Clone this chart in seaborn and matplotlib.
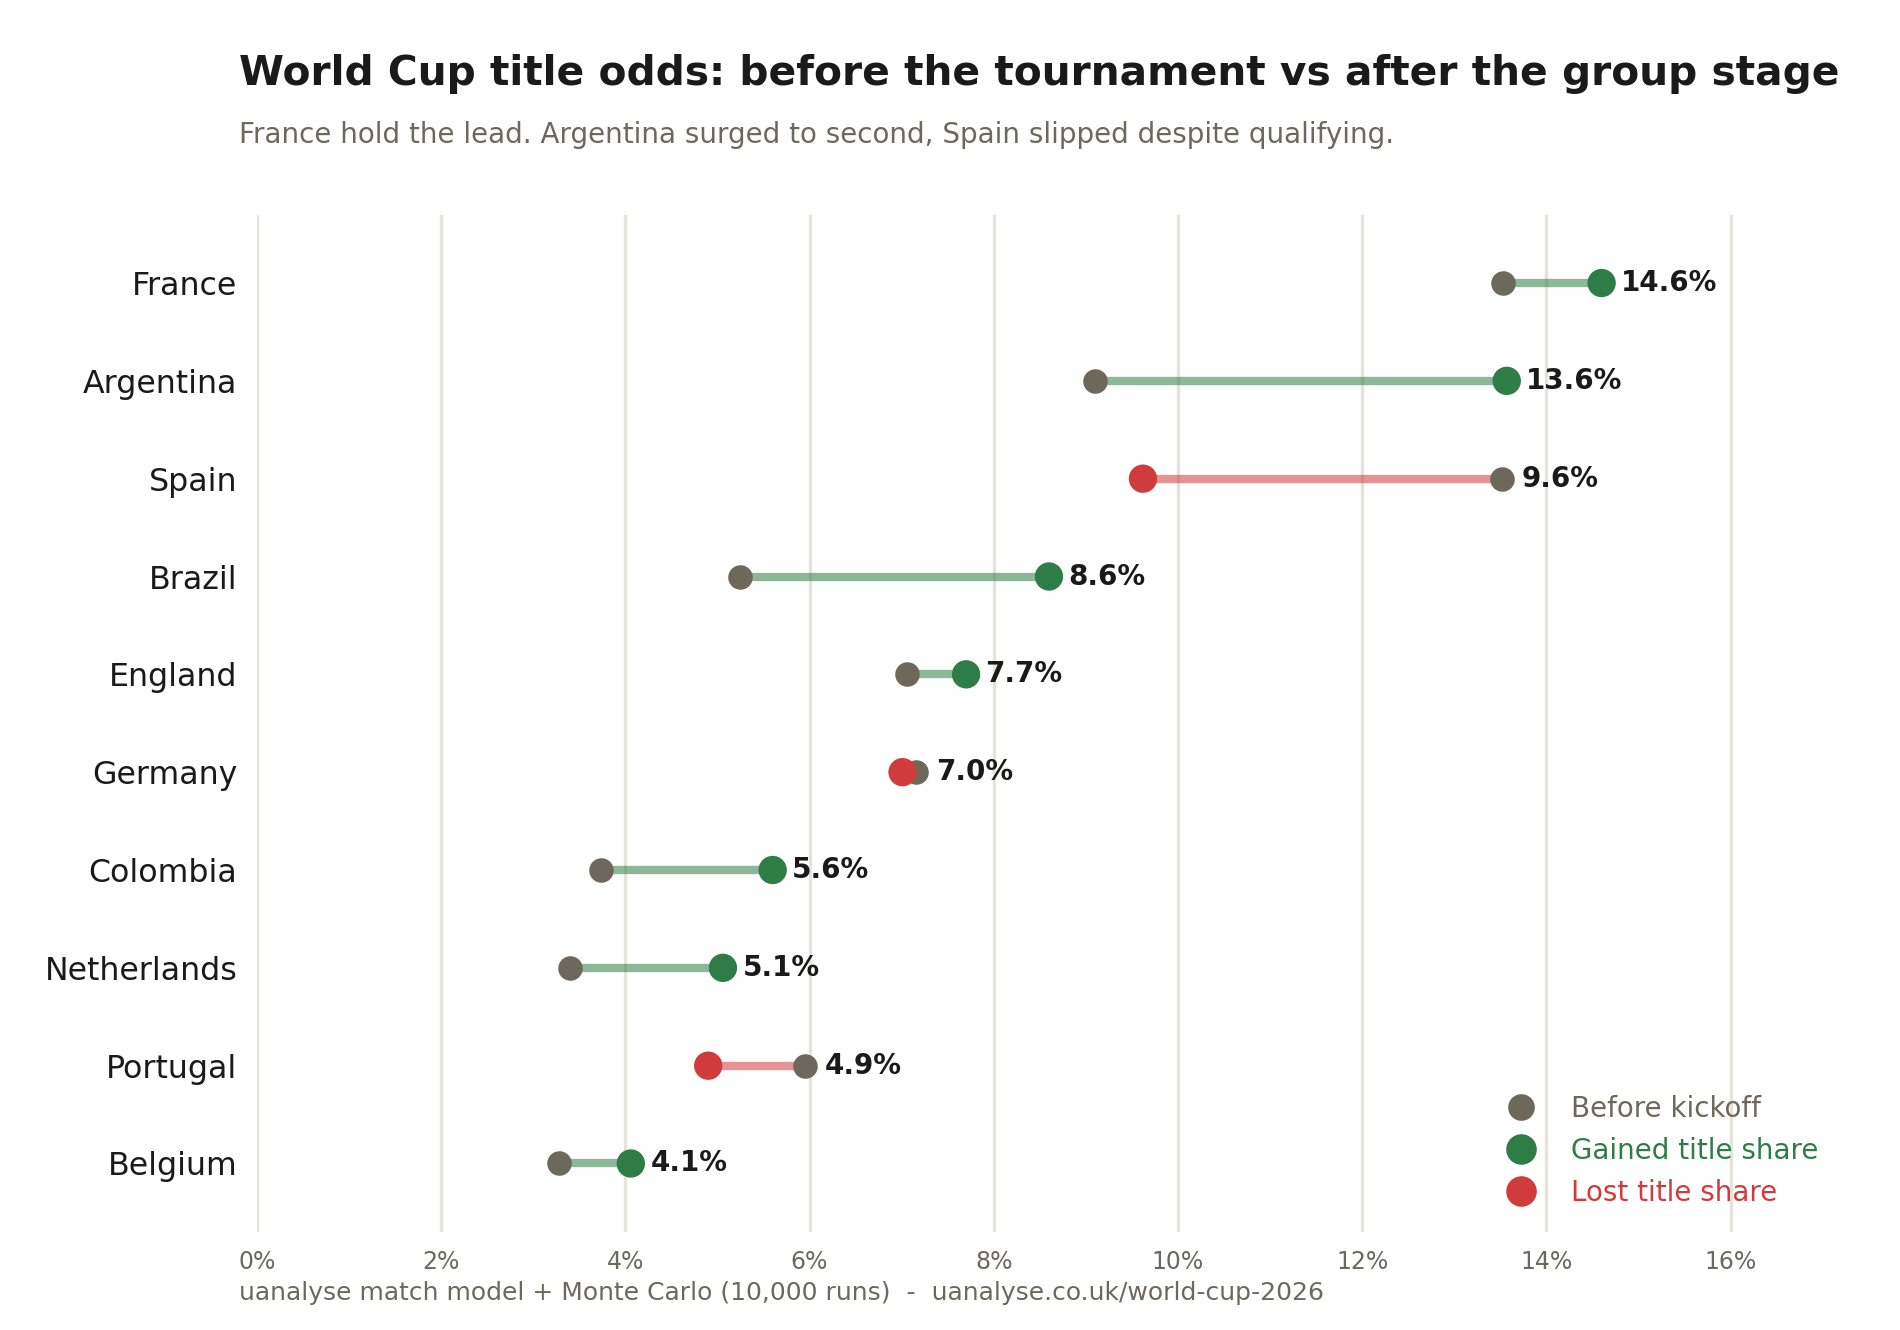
import numpy as np
import pandas as pd
import matplotlib.pyplot as plt
import seaborn as sns
from matplotlib.lines import Line2D
from matplotlib.ticker import PercentFormatter

TEAMS = ["France", "Argentina", "Spain", "Brazil", "England",
         "Germany", "Colombia", "Netherlands", "Portugal", "Belgium"]
BEFORE = [13.53, 9.1, 13.52, 5.25, 7.06, 7.16, 3.74, 3.4, 5.95, 3.28]
AFTER = [14.6, 13.57, 9.62, 8.6, 7.7, 7.01, 5.6, 5.06, 4.9, 4.06]

GREY = "#6e685c"
GREEN = "#2e7d46"
RED = "#d03b3b"
DARK = "#1a1a1a"
GRID = "#e6e3da"

df = pd.DataFrame({"team": TEAMS, "before": BEFORE, "after": AFTER})
df["change"] = np.where(df["after"] > df["before"], "gain", "loss")
pos = np.arange(len(df))

sns.set_theme(style="white")
plt.rcParams["font.family"] = ["DejaVu Sans"]

fig, ax = plt.subplots(figsize=(9.5, 6.65), dpi=200)
fig.subplots_adjust(left=0.1352, right=0.9593, top=0.8387, bottom=0.0737)

# connecting lines
line_cols = [GREEN if c == "gain" else RED for c in df["change"]]
ax.hlines(pos, df["before"], df["after"], colors=line_cols, lw=3, alpha=0.55, zorder=2)

sns.scatterplot(x=df["before"], y=pos, color=GREY, s=78, linewidth=0, ax=ax, zorder=3)
sns.scatterplot(data=df.assign(p=pos), x="after", y="p", hue="change",
                palette={"gain": GREEN, "loss": RED}, s=104, linewidth=0,
                ax=ax, zorder=4, legend=False)

for i, row in df.iterrows():
    ax.annotate(f"{row['after']:.1f}%", (max(row["before"], row["after"]), i),
                xytext=(7, 0), textcoords="offset points", va="center",
                ha="left", fontsize=10, fontweight="bold", color=DARK)

ax.set_xlim(0, 17)
ax.set_ylim(len(df) - 0.3, -0.7)
ax.set_xticks(np.arange(0, 17, 2))
ax.xaxis.set_major_formatter(PercentFormatter(decimals=0))
ax.set_yticks(pos)
ax.set_yticklabels(TEAMS)
ax.set_xlabel("")
ax.set_ylabel("")
ax.grid(axis="x", color=GRID, lw=1.2)
ax.set_axisbelow(True)
sns.despine(ax=ax, left=True, bottom=True)
ax.tick_params(axis="x", labelsize=8.5, colors=GREY, length=3.5, width=0.8, pad=3)
ax.tick_params(axis="y", labelsize=11.4, labelcolor=DARK, color=DARK, length=3.5, width=0.8, pad=3.5)

handles = [
    Line2D([], [], marker="o", ls="", color=GREY, markersize=8.6),
    Line2D([], [], marker="o", ls="", color=GREEN, markersize=10),
    Line2D([], [], marker="o", ls="", color=RED, markersize=10),
]
leg = ax.legend(handles, ["Before kickoff", "Gained title share", "Lost title share"],
                loc="lower right", bbox_to_anchor=(1.013, 0), frameon=False,
                fontsize=10, labelspacing=0.5, labelcolor=[GREY, GREEN, RED])

fig.text(0.1258, 0.9364, "World Cup title odds: before the tournament vs after the group stage",
         fontsize=14.7, fontweight="bold", color=DARK, va="baseline")
fig.text(0.1258, 0.8925, "France hold the lead. Argentina surged to second, Spain slipped despite qualifying.",
         fontsize=10, color=GREY, va="baseline")
fig.text(0.1258, 0.0226, "uanalyse match model + Monte Carlo (10,000 runs)  -  uanalyse.co.uk/world-cup-2026",
         fontsize=9, color=GREY, va="baseline")

fig.savefig("out.png", dpi=200, facecolor="white")
